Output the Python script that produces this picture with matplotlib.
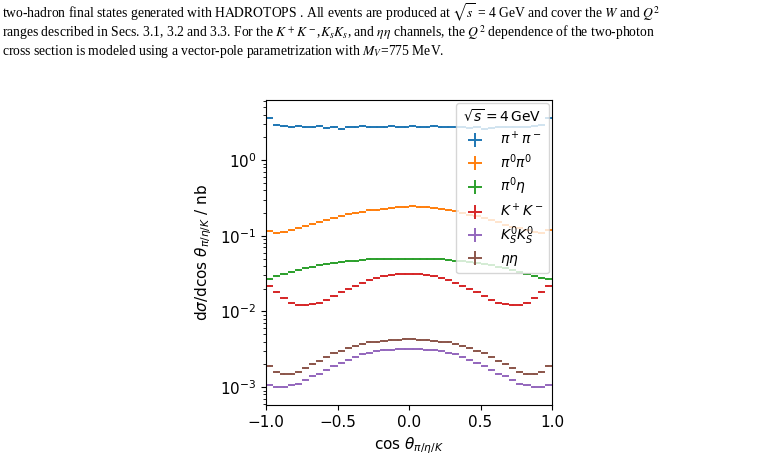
import numpy as np
import matplotlib
matplotlib.use("Agg")
import matplotlib.pyplot as plt

# bin centres of cos(theta), 40 bins
x = np.linspace(-0.975, 0.975, 40)

pipi = [3.6, 2.9, 2.8, 2.75, 2.8, 2.7, 2.75, 2.8, 2.65, 2.7, 2.6, 2.75, 2.7, 2.8, 2.75, 2.7, 2.75, 2.8, 2.7, 2.75,
        2.8, 2.75, 2.7, 2.8, 2.75, 2.7, 2.75, 2.7, 2.65, 2.7, 2.6, 2.65, 2.7, 2.7, 2.75, 2.7, 2.75, 2.8, 2.9, 3.6]
pi0pi0 = [0.115, 0.11, 0.112, 0.118, 0.125, 0.133, 0.142, 0.152, 0.162, 0.172, 0.182, 0.192, 0.2, 0.208, 0.216, 0.222,
          0.228, 0.234, 0.238, 0.242, 0.245, 0.243, 0.24, 0.235, 0.228, 0.22, 0.21, 0.2, 0.19, 0.18, 0.17, 0.16, 0.15,
          0.14, 0.132, 0.125, 0.118, 0.113, 0.11, 0.118]
pi0eta = [0.027, 0.029, 0.031, 0.033, 0.035, 0.037, 0.039, 0.041, 0.042, 0.044, 0.045, 0.046, 0.047, 0.048, 0.049,
          0.049, 0.05, 0.05, 0.05, 0.05, 0.05, 0.05, 0.05, 0.049, 0.049, 0.048, 0.047, 0.046, 0.045, 0.044, 0.042,
          0.041, 0.039, 0.037, 0.035, 0.033, 0.031, 0.029, 0.028, 0.027]
kk = [0.022, 0.018, 0.015, 0.013, 0.012, 0.012, 0.0125, 0.013, 0.014, 0.016, 0.018, 0.02, 0.022, 0.024, 0.026, 0.028,
      0.029, 0.03, 0.031, 0.031, 0.031, 0.031, 0.03, 0.029, 0.028, 0.026, 0.024, 0.022, 0.02, 0.018, 0.016, 0.014,
      0.013, 0.0125, 0.012, 0.012, 0.013, 0.015, 0.018, 0.022]
ksks = [0.00105, 0.001, 0.001, 0.00105, 0.0011, 0.00125, 0.0014, 0.0015, 0.0017, 0.0019, 0.0021, 0.0023, 0.0025,
        0.0027, 0.0028, 0.003, 0.0031, 0.0031, 0.0032, 0.0032, 0.0032, 0.0032, 0.0031, 0.0031, 0.003, 0.0028, 0.0027,
        0.0025, 0.0023, 0.0021, 0.0019, 0.0017, 0.0015, 0.0014, 0.00125, 0.0011, 0.00105, 0.001, 0.001, 0.00105]
etaeta = [0.0019, 0.0016, 0.0015, 0.0015, 0.0016, 0.0018, 0.002, 0.0022, 0.0025, 0.0028, 0.003, 0.0033, 0.0035,
          0.0037, 0.0039, 0.004, 0.0041, 0.0042, 0.0042, 0.0043, 0.0043, 0.0042, 0.0042, 0.0041, 0.004, 0.0039,
          0.0037, 0.0035, 0.0033, 0.003, 0.0028, 0.0025, 0.0022, 0.002, 0.0018, 0.0016, 0.0015, 0.0015, 0.0016, 0.0019]

series = [(pipi, r'$\pi^+\pi^-$'), (pi0pi0, r'$\pi^0\pi^0$'), (pi0eta, r'$\pi^0\eta$'),
          (kk, r'$K^+K^-$'), (ksks, r'$K^0_SK^0_S$'), (etaeta, r'$\eta\eta$')]
colors = ['C0', 'C1', 'C2', 'C3', 'C4', 'C5']

fig = plt.figure(figsize=(7.78, 4.53), dpi=100)

# paper text above the figure
serif = dict(family='Liberation Serif', fontsize=9.8, math_fontfamily='stix', va='center')
fig.text(0.003, 0.972, r'two-hadron final states generated with H$\mathrm{ADRO}$TOPS . All events are produced at '
         r'$\sqrt{s}$ = 4 GeV and cover the $W$ and $Q^2$', **serif)
fig.text(0.003, 0.928, r'ranges described in Secs. 3.1, 3.2 and 3.3. For the $K^+K^-$,$K_sK_s$, and $\eta\eta$ channels, '
         r'the $Q^2$ dependence of the two-photon', **serif)
fig.text(0.003, 0.886, r'cross section is modeled using a vector-pole parametrization with $M_V$=775 MeV.', **serif)

ax = fig.add_axes([0.342, 0.106, 0.3675, 0.673])
for (y, lab), c in zip(series, colors):
    y = np.array(y)
    ax.errorbar(x, y, xerr=0.025, yerr=0.03 * y, fmt='none', label=lab, lw=1.4, color=c)

ax.set_yscale('log')
ax.set_xlim(-1.0, 1.0)
ax.set_ylim(5.8e-4, 6.2)
ax.set_xticks([-1.0, -0.5, 0.0, 0.5, 1.0])
ax.tick_params(labelsize=11)
ax.set_xlabel(r'$\cos\,\theta_{\pi/\eta/K}$', fontsize=11)
ax.set_ylabel(r'd$\sigma$/d$\cos\,\theta_{\pi/\eta/K}$ / nb', fontsize=11)
leg = ax.legend(title=r'$\sqrt{s}=4\,$GeV', loc='upper right', fontsize=10, title_fontsize=10,
                borderaxespad=0.2, handlelength=2.0, labelspacing=0.35)

plt.savefig('out.png', dpi=100)
